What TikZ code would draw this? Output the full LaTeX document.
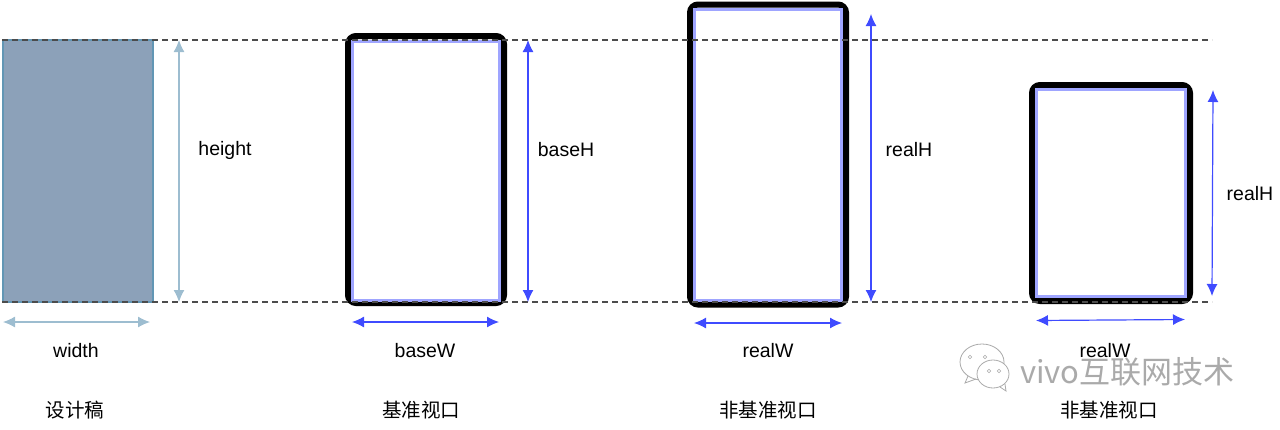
\documentclass[tikz,border=0pt]{standalone}
\usepackage{fontspec}
\setmainfont{Liberation Sans}
\newfontfamily\cjk{Noto Sans CJK SC}
\usetikzlibrary{positioning,arrows.meta}
\definecolor{draftfill}{RGB}{140,161,185}
\definecolor{draftline}{RGB}{98,150,180}
\definecolor{draftarrow}{RGB}{157,189,208}
\definecolor{viewblue}{RGB}{63,75,255}
\definecolor{markgray}{RGB}{170,170,170}
\tikzset{guide/.style={dash pattern=on 6pt off 4pt,draw=black!70,line width=1.2pt}}
\tikzset{screen/.style={draw=black,line width=6pt,rounded corners=8pt,inner sep=0pt,outer sep=0pt,anchor=north west}}
\tikzset{innerbox/.style={draw=viewblue!50,line width=3pt,inner sep=0pt,outer sep=0pt,anchor=north west}}
\tikzset{draftarr/.style={draftarrow,line width=1.2pt,{Latex[length=12pt,width=11pt]}-{Latex[length=12pt,width=11pt]}}}
\tikzset{viewarr/.style={viewblue,line width=1.2pt,{Latex[length=12pt,width=11pt]}-{Latex[length=12pt,width=11pt]}}}
\tikzset{lbl/.style={font=\fontsize{19.5}{22}\selectfont,text=black}}
\tikzset{capt/.style={font=\cjk\fontsize{19.5}{22}\selectfont,text=black}}
\begin{document}
\begin{tikzpicture}[x=1pt,y=-1pt]
    \useasboundingbox (0,0) rectangle (1280,429);
    % design draft
    \node[fill=draftfill,draw=draftline,line width=1.2pt,inner sep=0pt,outer sep=0pt,minimum width=150pt,minimum height=262pt,anchor=north west] (draft) at (3,40) {};
    % viewports
    \node[screen,minimum width=156pt,minimum height=267pt] (view2) at (348,36) {};
    \node[innerbox,minimum width=147pt,minimum height=259pt] (in2) at (352.5,41) {};
    \node[screen,minimum width=156pt,minimum height=300pt] (view3) at (690,4.5) {};
    \node[innerbox,minimum width=147pt,minimum height=291pt] (in3) at (694.5,9) {};
    \node[screen,minimum width=158pt,minimum height=216pt] (view4) at (1032,85) {};
    \node[innerbox,minimum width=149pt,minimum height=207pt] (in4) at (1036.5,89.5) {};

    % guides
    \coordinate (topL) at (2,40);
    \coordinate (topR) at (1212,40);
    \coordinate (botL) at (2,302);
    \coordinate (botR) at (1212,302);
    \draw[guide] (topL) -- (topR);
    \draw[guide] (botL) -- (botR);

    % size arrows
    \coordinate (w1a) at (3,322);   \coordinate (w1b) at (150,322);
    \coordinate (h1a) at (179,40);  \coordinate (h1b) at (179,302);
    \coordinate (w2a) at (352,322); \coordinate (w2b) at (499,322);
    \coordinate (h2a) at (528,40);  \coordinate (h2b) at (528,302);
    \coordinate (w3a) at (694,323); \coordinate (w3b) at (842,323);
    \coordinate (h3a) at (871,14);  \coordinate (h3b) at (871,302);
    \coordinate (w4a) at (1036,320.5);\coordinate (w4b) at (1185,319.5);
    \coordinate (h4a) at (1213,90); \coordinate (h4b) at (1212,296);
    \draw[draftarr] (w1a) -- (w1b);
    \draw[draftarr] (h1a) -- (h1b);
    \draw[viewarr] (w2a) -- (w2b);
    \draw[viewarr] (h2a) -- (h2b);
    \draw[viewarr] (w3a) -- (w3b);
    \draw[viewarr] (h3a) -- (h3b);
    \draw[viewarr] (w4a) -- (w4b);
    \draw[viewarr] (h4a) -- (h4b);

    % labels
    \node[lbl] (width) at (76,351) {width};
    \node[lbl] (height) at (225,150) {height};
    \node[lbl] (baseW) at (425,351) {baseW};
    \node[lbl] (baseH) at (566,150) {baseH};
    \node[lbl] (realW1) at (768,351) {realW};
    \node[lbl] (realH1) at (909,150) {realH};
    \node[lbl] (realW2) at (1105,351) {realW};
    \node[lbl] (realH2) at (1250,194) {realH};
    \node[capt] (cap1) at (75,410) {设计稿};
    \node[capt] (cap2) at (421,410) {基准视口};
    \node[capt] (cap3) at (768,410) {非基准视口};
    \node[capt] (cap4) at (1109,410) {非基准视口};

    % watermark
    \node[font=\cjk\fontsize{31}{34}\selectfont,text=markgray,anchor=west,inner sep=0pt] (mark) at (1020,372) {vivo互联网技术};
    \draw[markgray,line width=0.8pt,fill=white] (982,362) ellipse (22pt and 18pt);
    \draw[markgray,line width=0.8pt] (968,376) -- (965,383) -- (976,379);
    \draw[markgray,line width=0.8pt,fill=white] (993,374) ellipse (16pt and 14pt);
    \draw[markgray,line width=0.8pt] (1000,387) -- (1006,391) -- (1005,384);
    \foreach \px/\py in {970/357,985/357,989/371,999/371}
        \draw[markgray,line width=0.6pt] (\px,\py) circle (1.8pt);
\end{tikzpicture}
\end{document}
